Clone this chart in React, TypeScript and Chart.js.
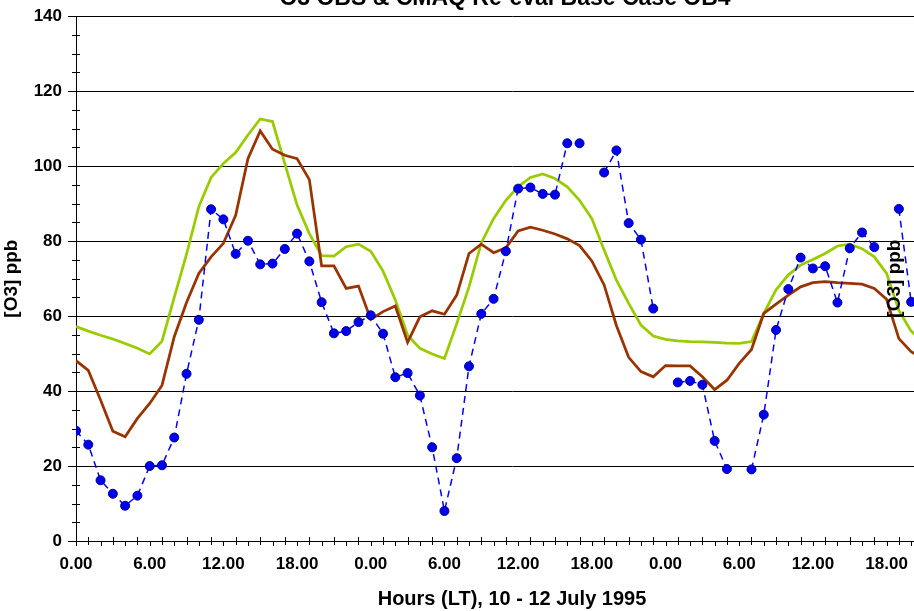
import { useEffect, useRef } from "react";
import { Chart, registerables } from "chart.js";

Chart.register(...registerables);

// Text
const CHART_TITLE = "O3 OBS & CMAQ Re-eval Base Case OB4";
const X_TITLE = "Hours (LT), 10 - 12 July 1995";
const Y_TITLE = "[O3] ppb";

// Hourly ozone, hour 0 = 00:00 on 10 July (null = missing observation)
const obsPpb: (number | null)[] = [
  29.4, 25.7, 16.2, 12.6, 9.4, 12.1, 20, 20.2, 27.6, 44.6, 59, 88.5,
  85.8, 76.6, 80.1, 73.8, 74, 77.9, 82, 74.6, 63.7, 55.4, 56, 58.4,
  60.2, 55.3, 43.7, 44.8, 38.8, 25, 8, 22.1, 46.6, 60.6, 64.6, 77.3,
  94, 94.3, 92.6, 92.4, 106.1, 106.1, null, 98.3, 104.2, 84.8, 80.4, 62,
  null, 42.3, 42.7, 41.7, 26.7, 19.2, null, 19.1, 33.7, 56.3, 67.2, 75.6,
  72.7, 73.3, 63.6, 78.1, 82.3, 78.4, null, 88.6, 63.8,
];

const cmaqReEvalPpb: number[] = [
  57.2, 56, 54.9, 53.9, 52.7, 51.4, 49.9, 53.3, 65, 76.5, 89.2, 97,
  100.7, 103.6, 108.3, 112.6, 111.9, 100.7, 89.6, 82, 76.1, 76, 78.5, 79.2,
  77.3, 72, 64.3, 54.9, 51.4, 49.9, 48.7, 58, 67.8, 79.5, 86, 90.9,
  94.5, 97, 97.9, 96.7, 94.5, 90.9, 86, 77.6, 69.6, 63.4, 57.6, 54.7,
  53.8, 53.4, 53.2, 53.1, 53, 52.8, 52.7, 53.2, 60.7, 67, 71, 73.6,
  75.1, 76.7, 78.7, 79.2, 78, 75.8, 71.4, 61.5, 56, 53,
];

const cmaqBasePpb: number[] = [
  48.1, 45.5, 37.6, 29.3, 27.8, 32.7, 36.7, 41.5, 54.5, 63.6, 71.4, 75.8,
  79.4, 86.9, 102, 109.4, 104.5, 102.9, 102, 96.4, 73.4, 73.4, 67.4, 68,
  59.1, 61.2, 62.7, 53, 59.8, 61.4, 60.5, 65.6, 76.7, 79.2, 76.9, 78.2,
  82.7, 83.7, 82.9, 81.9, 80.6, 78.8, 74.7, 68.3, 57.5, 49, 45.2, 43.8,
  46.8, 46.7, 46.7, 43.8, 40.4, 42.9, 47.4, 51.1, 60.7, 63.2, 65.6, 67.8,
  68.9, 69.2, 68.9, 68.7, 68.5, 67.4, 64.5, 54, 50.5, 48.5,
];

// Axes
const HOUR_MAX = 71;
const HOUR_LABEL_STEP = 6;
const Y_MAX = 140;
const Y_STEP = 20;
const Y_MINOR_STEP = 5;

const FONT = "'Liberation Sans', Arial, Helvetica, sans-serif";

const toPoints = (vals: (number | null)[]) => vals.map((v, i) => ({ x: i, y: v }));

const decorPlugin = {
  id: "decor",
  afterDraw(chart: any) {
    const { ctx, chartArea, scales } = chart;
    const xs = scales.x;
    const ys = scales.y;
    ctx.save();
    ctx.strokeStyle = "#000";
    ctx.lineWidth = 1;
    ctx.beginPath();
    // minor value ticks crossing the vertical axis
    for (let v = Y_MINOR_STEP; v < Y_MAX; v += Y_MINOR_STEP) {
      if (v % Y_STEP === 0) continue;
      const py = Math.round(ys.getPixelForValue(v)) + 0.5;
      ctx.moveTo(chartArea.left - 4, py);
      ctx.lineTo(chartArea.left + 4, py);
    }
    // hourly ticks on the time axis
    for (let h = 0; h <= HOUR_MAX; h++) {
      const px = Math.round(xs.getPixelForValue(h)) + 0.5;
      if (h % 2) {
        ctx.moveTo(px, chartArea.bottom - 4);
        ctx.lineTo(px, chartArea.bottom + 4);
      } else {
        ctx.moveTo(px, chartArea.bottom);
        ctx.lineTo(px, chartArea.bottom + 5);
      }
    }
    ctx.stroke();

    // chart title
    ctx.fillStyle = "#000";
    ctx.font = `bold 23px ${FONT}`;
    ctx.textAlign = "center";
    ctx.textBaseline = "alphabetic";
    ctx.fillText(CHART_TITLE, 505, 5);

    // secondary axis caption
    ctx.save();
    ctx.translate(895, (chartArea.top + chartArea.bottom) / 2);
    ctx.rotate(-Math.PI / 2);
    ctx.font = `bold 19px ${FONT}`;
    ctx.textBaseline = "middle";
    ctx.fillText(Y_TITLE, 0, 0);
    ctx.restore();
    ctx.restore();
  },
};

export default function App() {
  const canvasRef = useRef<HTMLCanvasElement | null>(null);

  useEffect(() => {
    if (!canvasRef.current) return;
    const chart = new Chart(canvasRef.current, {
      type: "line",
      data: {
        datasets: [
          {
            label: "OBS",
            data: toPoints(obsPpb),
            borderColor: "#0000ff",
            borderWidth: 1.5,
            borderDash: [7, 5],
            pointRadius: 4.5,
            pointBackgroundColor: "#0000f0",
            pointBorderColor: "#000090",
            pointBorderWidth: 1,
            spanGaps: false,
            tension: 0,
            order: 0,
          },
          {
            label: "CMAQ Base Case",
            data: toPoints(cmaqBasePpb),
            borderColor: "#993300",
            borderWidth: 2.75,
            pointRadius: 0,
            tension: 0,
            order: 1,
          },
          {
            label: "CMAQ Re-eval",
            data: toPoints(cmaqReEvalPpb),
            borderColor: "#99cc00",
            borderWidth: 2.75,
            pointRadius: 0,
            tension: 0,
            order: 2,
          },
        ],
      },
      options: {
        responsive: false,
        animation: false,
        devicePixelRatio: 1,
        layout: { padding: { top: 16, right: 4, bottom: 0, left: 0 } },
        plugins: {
          legend: { display: false },
          tooltip: { enabled: false },
          title: { display: false },
        },
        scales: {
          x: {
            type: "linear",
            min: 0,
            max: HOUR_MAX,
            grid: { display: false, drawTicks: false },
            border: { display: true, color: "#000", width: 1 },
            ticks: {
              stepSize: HOUR_LABEL_STEP,
              autoSkip: false,
              maxRotation: 0,
              padding: 13,
              color: "#000",
              font: { family: FONT, size: 17, weight: "bold" },
              callback: (v: any) =>
                Number(v) % HOUR_LABEL_STEP === 0 ? `${Number(v) % 24}.00` : "",
            },
            title: {
              display: true,
              text: X_TITLE,
              color: "#000",
              padding: { top: 0, bottom: 0 },
              font: { family: FONT, size: 20, weight: "bold" },
            },
            afterFit: (s: any) => {
              s.height = 70;
            },
          },
          y: {
            min: 0,
            max: Y_MAX,
            grid: { color: "#000", lineWidth: 1, tickLength: 8, drawTicks: true },
            border: { display: true, color: "#000", width: 1 },
            ticks: {
              stepSize: Y_STEP,
              padding: 6,
              color: "#000",
              font: { family: FONT, size: 17, weight: "bold" },
            },
            title: {
              display: true,
              text: Y_TITLE,
              color: "#000",
              padding: { top: 0, bottom: 0 },
              font: { family: FONT, size: 19, weight: "bold" },
            },
            afterFit: (s: any) => {
              s.width = 76;
            },
          },
        },
      },
      plugins: [decorPlugin],
    });
    return () => chart.destroy();
  }, []);

  return (
    <div
      style={{
        position: "fixed",
        left: 0,
        top: 0,
        width: 914,
        height: 611,
        overflow: "hidden",
        background: "#fff",
      }}
    >
      <canvas ref={canvasRef} width={961} height={611} style={{ display: "block" }} />
    </div>
  );
}
